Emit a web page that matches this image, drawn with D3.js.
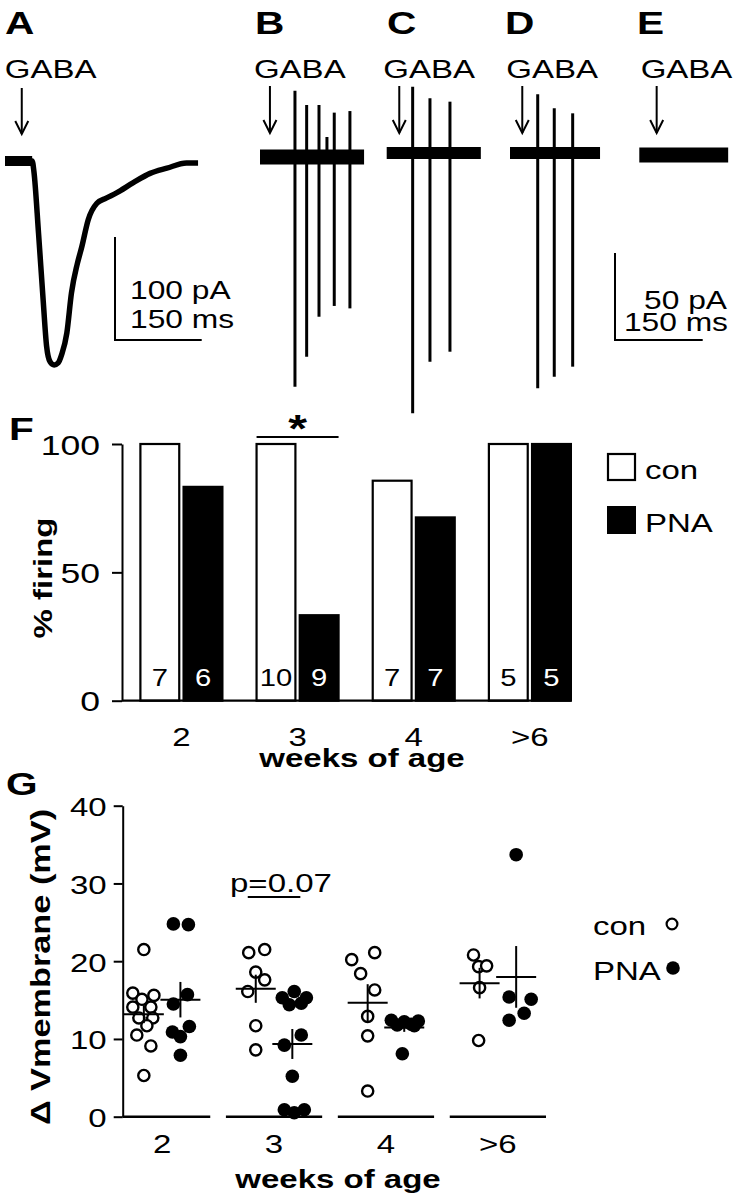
<!DOCTYPE html>
<html><head><meta charset="utf-8">
<script src="https://cdn.jsdelivr.net/npm/d3@7"></script>
<style>
body{margin:0;background:#fff}
svg{display:block}
text{font-family:"Liberation Sans",Arial,Helvetica,sans-serif;fill:#000}
</style>
</head><body>
<svg id="c" width="736" height="1199"></svg>
<script>
// ---------------- DATA ----------------
// Panel A: GABA-evoked current (time in ms, current in pA)
const traceA_t  = [0, 47, 50, 58, 66, 72, 78, 85, 92, 98, 107, 115, 125, 133, 144, 159, 175, 193, 222, 251, 280, 314, 334];
const traceA_pA = [0, 0, -10, -70, -135, -180, -195, -198, -196, -188, -167, -128, -100, -83, -57, -41, -36, -31, -21, -12, -7, -2, -2];
const gabaTimeA = 29;

// Panels B-E: cell-attached recordings, spikes (time ms, amplitude pA)
const panelsBE   = ["B", "C", "D", "E"];
const traceDurBE = [178, 161, 154, 152];
const gabaTimeBE = [17, 21.5, 21, 29.7];
const spikeTimes = [[59.8, 79.8, 100.9, 114.5, 127, 153.8], [44.4, 74, 108.2], [47.4, 75.7, 107.2], []];
const spikeUp    = [[38.1, 29.9, 29.9, 11.5, 25.5, 26.4], [38.1, 31.4, 29.5], [33.7, 25.7, 22.8], []];
const spikeDown  = [[132, 114.8, 91.8, 0, 85.6, 87], [149.6, 119.9, 114.2], [135.2, 128.6, 122.8], []];

// Panel F: % firing
const weeks      = ["2", "3", "4", ">6"];
const groups     = ["con", "PNA"];
const firingCon  = [100, 100, 85.7, 100];
const firingPNA  = [83.3, 33.3, 71.4, 100];
const nCon       = [7, 10, 7, 5];
const nPNA       = [6, 9, 7, 5];
const fTicks     = [0, 50, 100];

// Panel G: delta Vmembrane (mV), with horizontal jitter (relative units)
const vCon = [
  [21.5, 15.9, 15.1, 15.6, 14.1, 14.1, 12.7, 12.7, 11.7, 10.5, 9.1, 5.3],
  [21.1, 21.5, 18.6, 17.6, 16.1, 11.7, 8.6],
  [20.2, 21.1, 18.4, 16.3, 12.9, 10.4, 3.3],
  [20.8, 19.3, 19.4, 16.6, 9.8]
];
const jitCon = [
  [0, -0.58, -0.1, 0.53, -0.58, 0.37, -0.26, 0.47, 0.16, -0.37, 0.37, 0],
  [-0.37, 0.47, 0, 0.47, -0.42, 0, 0],
  [-0.84, 0.37, -0.37, 0.37, 0, 0, 0],
  [-0.32, -0.05, 0.37, 0, -0.05]
];
const vPNA = [
  [24.8, 24.7, 15.7, 14.5, 10.9, 11.6, 10.3, 7.9],
  [15.3, 16.1, 15.3, 14.4, 14.6, 10.5, 9.2, 5.2, 0.9, 0.9, 0.5],
  [12.4, 11.8, 12.2, 11.9, 12.3, 11.7, 8.1],
  [33.7, 15.4, 15.1, 13.3, 12.4]
];
const jitPNA = [
  [-0.37, 0.42, 0.37, -0.37, -0.42, 0.47, 0, 0],
  [-0.53, 0.1, 0.74, -0.16, 0.47, 0.47, -0.42, 0, -0.42, 0.63, 0.1],
  [-0.68, -0.37, 0, 0.37, 0.74, 0.53, -0.1],
  [0, -0.37, 0.79, 0.42, -0.37]
];
const gTicks = [0, 10, 20, 30, 40];

// ---------------- DRAWING ----------------
const svg = d3.select("#c");
const SX = 1.27; // horizontal glyph stretch of the original lettering

function txt(g, x, y, s, o = {}) {
  return g.append("text")
    .attr("transform", `translate(${x},${y}) rotate(${o.rotate || 0}) scale(${SX},1)`)
    .attr("text-anchor", o.anchor || "start")
    .attr("font-size", o.size || 26)
    .attr("font-weight", o.weight || "normal")
    .style("fill", o.fill || "#000")
    .text(s);
}
function restyleAxis(g, fs, textTransform) {
  g.selectAll("path.domain").attr("stroke", "#000").attr("stroke-width", 2);
  g.selectAll(".tick line").attr("stroke", "#000").attr("stroke-width", 2);
  g.selectAll(".tick text").each(function () {
    const t = d3.select(this);
    const x = +t.attr("x") || 0;
    t.attr("x", null).attr("y", null).attr("dy", null)
     .attr("transform", textTransform(x))
     .attr("font-size", fs).style("fill", "#000");
  });
  g.attr("font-family", null).attr("font-size", null);
}
function arrow(g, x, y1, y2) {
  g.append("line").attr("x1", x).attr("x2", x).attr("y1", y1).attr("y2", y2)
    .attr("stroke", "#000").attr("stroke-width", 2);
  g.append("path").attr("d", `M${x - 6.5},${y2 - 13}L${x},${y2}L${x + 6.5},${y2 - 13}`)
    .attr("fill", "none").attr("stroke", "#000").attr("stroke-width", 2);
}

// ---- Panel A ----
const gA = svg.append("g");
txt(gA, 5, 34, "A", { size: 32, weight: "bold" });
const xA = d3.scaleLinear().domain([0, 150]).range([5, 91.7]);
const yA = d3.scaleLinear().domain([0, -100]).range([161, 264]);
const ptsA = traceA_t.map((t, i) => [t, traceA_pA[i]]);
const lineA = d3.line().x(d => xA(d[0])).y(d => yA(d[1])).curve(d3.curveMonotoneX);
gA.append("path").attr("d", lineA(ptsA))
  .attr("fill", "none").attr("stroke", "#000").attr("stroke-width", 5.5).attr("stroke-linejoin", "round");
// noisier (thicker) pre-application baseline
gA.append("path").attr("d", lineA(ptsA.filter(d => d[0] <= traceA_t[1])))
  .attr("fill", "none").attr("stroke", "#000").attr("stroke-width", 10);
arrow(gA, xA(gabaTimeA), 88, 134);
txt(gA, xA(gabaTimeA) - 17, 78, "GABA", { size: 26 });
{
  const cx = 115, cy = 340;
  const h = yA(-100) - yA(0), w = xA(150) - xA(0);
  gA.append("path").attr("d", `M${cx},${cy - h}V${cy}H${cx + w}`)
    .attr("fill", "none").attr("stroke", "#000").attr("stroke-width", 2);
  txt(gA, 130, 299, "100 pA", { size: 25 });
  txt(gA, 130, 328, "150 ms", { size: 25 });
}

// ---- Panels B-E ----
const x0BE = [260, 386.7, 510, 639.3];
const baseBE = [157, 153, 153, 155];
const bandBE = [15, 12, 12, 15];
const letterX = [255, 387, 505, 637];
const yBEscale = d3.scaleLinear().domain([0, 50]).range([0, 87]);
let xE;
panelsBE.forEach((p, i) => {
  const g = svg.append("g");
  const x = d3.scaleLinear().domain([0, 150]).range([x0BE[i], x0BE[i] + 87.7]);
  if (p === "E") xE = x;
  txt(g, letterX[i], 34, p, { size: 32, weight: "bold" });
  const b = baseBE[i];
  g.append("line").attr("x1", x(0)).attr("x2", x(traceDurBE[i])).attr("y1", b).attr("y2", b)
    .attr("stroke", "#000").attr("stroke-width", bandBE[i]).attr("stroke-linecap", "butt");
  spikeTimes[i].forEach((t, k) => {
    g.append("line").attr("x1", x(t)).attr("x2", x(t))
      .attr("y1", b - yBEscale(spikeUp[i][k])).attr("y2", b + yBEscale(spikeDown[i][k]))
      .attr("stroke", "#000").attr("stroke-width", 3);
  });
  arrow(g, x(gabaTimeBE[i]), 86, 133);
  txt(g, x(gabaTimeBE[i]) - 16, 78, "GABA", { size: 26 });
});
{
  const g = svg.append("g");
  const cx = 615, cy = 340;
  const h = yBEscale(50), w = xE(150) - xE(0);
  g.append("path").attr("d", `M${cx},${cy - h}V${cy}H${cx + w}`)
    .attr("fill", "none").attr("stroke", "#000").attr("stroke-width", 2);
  txt(g, 727, 309, "50 pA", { size: 25, anchor: "end" });
  txt(g, 728, 331, "150 ms", { size: 25, anchor: "end" });
}

// ---- Panel F ----
{
  const g = svg.append("g");
  txt(g, 9, 440, "F", { size: 32, weight: "bold" });
  const axX = 122;
  const yF = d3.scaleLinear().domain([0, 100]).range([700.7, 444]);
  const xF = d3.scaleBand().domain(weeks).range([140.4, 570.9]).paddingInner(0.294).paddingOuter(0);
  const xS = d3.scaleBand().domain(groups).range([0, xF.bandwidth()]).paddingInner(0.1);

  const rows = [];
  weeks.forEach((w, i) => {
    rows.push({ w, grp: "con", v: firingCon[i], n: nCon[i] });
    rows.push({ w, grp: "PNA", v: firingPNA[i], n: nPNA[i] });
  });
  g.selectAll("rect.bar").data(rows).join("rect").attr("class", "bar")
    .attr("x", d => xF(d.w) + xS(d.grp))
    .attr("y", d => yF(d.v))
    .attr("width", xS.bandwidth())
    .attr("height", d => yF(0) - yF(d.v))
    .attr("fill", d => d.grp === "con" ? "#fff" : "#000")
    .attr("stroke", "#000").attr("stroke-width", 2.2);
  rows.forEach(d => {
    txt(g, xF(d.w) + xS(d.grp) + xS.bandwidth() / 2, 686, String(d.n),
      { size: 23, anchor: "middle", fill: d.grp === "con" ? "#000" : "#fff" });
  });
  const ya = g.append("g").attr("transform", `translate(${axX},0)`)
    .call(d3.axisLeft(yF).tickValues(fTicks).tickSize(10).tickSizeOuter(0).tickPadding(12));
  restyleAxis(ya, 28, x => `translate(${x},10) scale(${SX},1)`);
  ya.selectAll(".tick text").attr("text-anchor", "end");
  g.append("line").attr("x1", axX).attr("x2", xF.range()[1]).attr("y1", yF(0)).attr("y2", yF(0))
    .attr("stroke", "#000").attr("stroke-width", 2.2);
  const xa = g.append("g").attr("transform", `translate(0,${yF(0)})`)
    .call(d3.axisBottom(xF).tickSize(0).tickPadding(0));
  xa.select("path.domain").remove();
  restyleAxis(xa, 26, () => `translate(0,45) scale(${SX},1)`);
  xa.selectAll(".tick text").attr("text-anchor", "middle");
  txt(g, 362, 767, "weeks of age", { size: 26, weight: "bold", anchor: "middle" });
  txt(g, 52, 578, "% firing", { size: 26, weight: "bold", anchor: "middle", rotate: -90 });
  const s3 = xF("3");
  g.append("line").attr("x1", s3).attr("x2", s3 + xF.bandwidth()).attr("y1", 437).attr("y2", 437)
    .attr("stroke", "#000").attr("stroke-width", 2);
  txt(g, s3 + xF.bandwidth() / 2, 442, "*", { size: 38, weight: "bold", anchor: "middle" });
  g.append("rect").attr("x", 608).attr("y", 454).attr("width", 27).attr("height", 26)
    .attr("fill", "#fff").attr("stroke", "#000").attr("stroke-width", 2.2);
  g.append("rect").attr("x", 607).attr("y", 506).attr("width", 29).attr("height", 28).attr("fill", "#000");
  txt(g, 645, 479, "con", { size: 26 });
  txt(g, 645, 532, "PNA", { size: 26 });
}

// ---- Panel G ----
{
  const g = svg.append("g");
  txt(g, 6, 795, "G", { size: 32, weight: "bold" });
  const axX = 122.7;
  const yG = d3.scaleLinear().domain([0, 40]).range([1116.7, 805.7]);
  const xG = d3.scaleBand().domain(weeks).range([114, 546]).paddingInner(0.14).paddingOuter(0);
  const bw = xG.bandwidth();
  const colOff = { con: -0.19 * bw, PNA: 0.19 * bw };
  const jit = d3.scaleLinear().domain([-1, 1]).range([-19, 19]);
  const colX = (w, grp) => xG(w) + bw / 2 + colOff[grp];

  weeks.forEach(w => {
    g.append("line").attr("x1", Math.max(axX, xG(w))).attr("x2", xG(w) + bw)
      .attr("y1", yG(0)).attr("y2", yG(0)).attr("stroke", "#000").attr("stroke-width", 2.5);
  });
  const ya = g.append("g").attr("transform", `translate(${axX},0)`)
    .call(d3.axisLeft(yG).tickValues(gTicks).tickSize(9).tickSizeOuter(0).tickPadding(7));
  restyleAxis(ya, 26, x => `translate(${x},10) scale(${SX},1)`);
  ya.selectAll(".tick text").attr("text-anchor", "end");
  const xa = g.append("g").attr("transform", `translate(0,${yG(0)})`)
    .call(d3.axisBottom(xG).tickSize(0).tickPadding(0));
  xa.select("path.domain").remove();
  restyleAxis(xa, 26, () => `translate(0,36) scale(${SX},1)`);
  xa.selectAll(".tick text").attr("text-anchor", "middle");

  const pts = [];
  const stats = [];
  weeks.forEach((w, i) => {
    [["con", vCon[i], jitCon[i]], ["PNA", vPNA[i], jitPNA[i]]].forEach(([grp, vals, js]) => {
      vals.forEach((v, k) => pts.push({ w, grp, v, j: js[k] }));
      stats.push({ w, grp, m: d3.mean(vals), se: d3.deviation(vals) / Math.sqrt(vals.length) });
    });
  });
  g.selectAll("circle.pt").data(pts).join("circle").attr("class", "pt")
    .attr("cx", d => colX(d.w, d.grp) + jit(d.j))
    .attr("cy", d => yG(d.v))
    .attr("r", d => d.grp === "con" ? 5.6 : 6.8)
    .attr("fill", d => d.grp === "con" ? "#fff" : "#000")
    .attr("stroke", d => d.grp === "con" ? "#000" : "none")
    .attr("stroke-width", 2.4);
  stats.forEach(s => {
    const cx = colX(s.w, s.grp);
    g.append("line").attr("x1", cx - 20).attr("x2", cx + 20).attr("y1", yG(s.m)).attr("y2", yG(s.m))
      .attr("stroke", "#000").attr("stroke-width", 2);
    g.append("line").attr("x1", cx).attr("x2", cx).attr("y1", yG(s.m + s.se)).attr("y2", yG(s.m - s.se))
      .attr("stroke", "#000").attr("stroke-width", 2);
  });
  txt(g, 230, 892, "p=0.07", { size: 26 });
  g.append("line").attr("x1", colX("3", "con") - 8).attr("x2", colX("3", "PNA") + 8)
    .attr("y1", 897).attr("y2", 897).attr("stroke", "#000").attr("stroke-width", 2);

  txt(g, 338, 1188, "weeks of age", { size: 26, weight: "bold", anchor: "middle" });
  txt(g, 50, 967, "\u0394 Vmembrane (mV)", { size: 27, weight: "bold", anchor: "middle", rotate: -90 });

  txt(g, 593, 935, "con", { size: 26 });
  txt(g, 593, 980, "PNA", { size: 26 });
  g.append("circle").attr("cx", 672).attr("cy", 924).attr("r", 5.4).attr("fill", "#fff")
    .attr("stroke", "#000").attr("stroke-width", 2.2);
  g.append("circle").attr("cx", 673).attr("cy", 968).attr("r", 6.8).attr("fill", "#000");
}
</script>
</body></html>
